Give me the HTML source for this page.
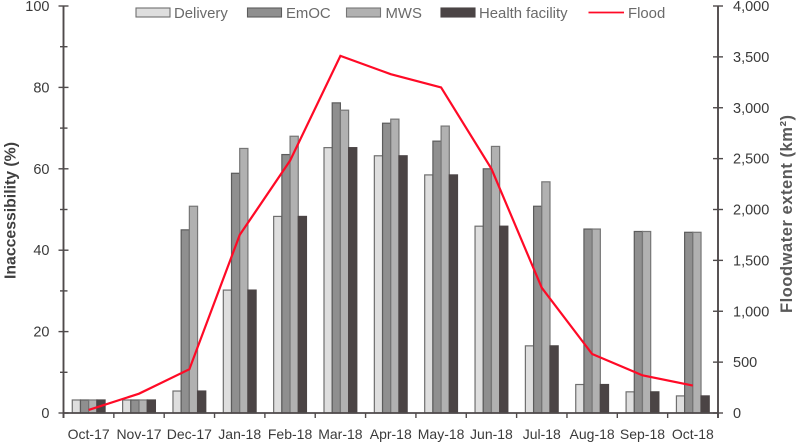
<!DOCTYPE html>
<html>
<head>
<meta charset="utf-8">
<style>
html,body{margin:0;padding:0;background:#fff;}
svg{display:block;font-family:"Liberation Sans",sans-serif;}
</style>
</head>
<body>
<svg id="chart" width="797" height="443" viewBox="0 0 797 443" xmlns="http://www.w3.org/2000/svg"></svg>
<script>
const categories = ["Oct-17","Nov-17","Dec-17","Jan-18","Feb-18","Mar-18","Apr-18","May-18","Jun-18","Jul-18","Aug-18","Sep-18","Oct-18"];
const delivery = [3.2,3.2,5.4,30.2,48.3,65.2,63.2,58.5,45.9,16.5,7,5.2,4.2];
const emoc = [3.2,3.2,45,58.9,63.5,76.2,71.2,66.8,60,50.8,45.2,44.6,44.4];
const mws = [3.2,3.2,50.8,65,68,74.4,72.2,70.5,65.5,56.8,45.2,44.6,44.4];
const healthFacility = [3.2,3.2,5.4,30.2,48.3,65.2,63.2,58.5,45.9,16.5,7,5.2,4.2];
const flood = [30,190,430,1750,2480,3510,3330,3200,2400,1230,580,370,270];
const leftTickLabels = [0,20,40,60,80,100];
const rightTickLabels = [0,500,1000,1500,2000,2500,3000,3500,4000];
const leftMinorTicks = [10,30,50,70,90];

const svg = document.getElementById('chart');
const NS = 'http://www.w3.org/2000/svg';
const plotLeft = 63.5, plotRight = 718, plotTop = 6, plotBottom = 413;
const leftMax = 100, rightMax = 4000;
const barWidth = 8.2;
const seriesStyles = [
  {name:'delivery', values:delivery, fill:'#dedede', stroke:'#6f6f6f'},
  {name:'emoc', values:emoc, fill:'#8f8f8f', stroke:'#5c5c5c'},
  {name:'mws', values:mws, fill:'#b1b1b1', stroke:'#767676'},
  {name:'health-facility', values:healthFacility, fill:'#4b4445', stroke:'#4b4445'}
];
function bandWidth(){ return (plotRight - plotLeft) / categories.length; }
function xCenter(i){ return plotLeft + bandWidth() * (i + 0.5); }
function yLeft(v){ return plotBottom - (v / leftMax) * (plotBottom - plotTop); }
function yRight(v){ return plotBottom - (v / rightMax) * (plotBottom - plotTop); }
function make(tag, attrs, text){
  const el = document.createElementNS(NS, tag);
  for (const k in attrs) el.setAttribute(k, attrs[k]);
  if (text !== undefined) el.textContent = text;
  svg.appendChild(el);
  return el;
}
const axisColor = '#4f4a4b';

// bars
seriesStyles.forEach(function(s, si){
  s.values.forEach(function(v, i){
    const x = xCenter(i) - 2 * barWidth + si * barWidth;
    const y = yLeft(v);
    const r = make('rect', {x:x, y:y, width:barWidth, height:plotBottom - y, fill:s.fill, stroke:s.stroke, 'stroke-width':1.2});
    
    
  });
});

// flood line
const floodPts = flood.map(function(v, i){ return xCenter(i) + ',' + yRight(v); }).join(' ');
const floodLine = make('polyline', {points:floodPts, fill:'none', stroke:'#ff0a26', 'stroke-width':2.2, 'stroke-linejoin':'miter'});



// axes
const leftAxis = make('line', {x1:plotLeft, y1:plotTop, x2:plotLeft, y2:plotBottom + 5, stroke:axisColor, 'stroke-width':1.9});


const rightAxis = make('line', {x1:plotRight, y1:plotTop, x2:plotRight, y2:plotBottom + 5, stroke:axisColor, 'stroke-width':1.9});


const xAxis = make('line', {x1:plotLeft, y1:plotBottom, x2:plotRight, y2:plotBottom, stroke:axisColor, 'stroke-width':1.7});



// left ticks
leftTickLabels.forEach(function(v){
  const y = yLeft(v);
  const t = make('line', {x1:plotLeft - 5, y1:y, x2:plotLeft + 5, y2:y, stroke:axisColor, 'stroke-width':1.4});
  
  
  const l = make('text', {x:plotLeft - 14, y:y + 5, 'text-anchor':'end', 'font-size':14.5, fill:'#3a3a3a'}, v);
  
  
});
leftMinorTicks.forEach(function(v){
  const y = yLeft(v);
  const t = make('line', {x1:plotLeft - 3.5, y1:y, x2:plotLeft + 4, y2:y, stroke:axisColor, 'stroke-width':1.4});
  
  
});

// right ticks
rightTickLabels.forEach(function(v){
  const y = yRight(v);
  const t = make('line', {x1:plotRight - 5, y1:y, x2:plotRight + 5, y2:y, stroke:axisColor, 'stroke-width':1.4});
  
  
  const l = make('text', {x:733, y:y + 5, 'font-size':14.5, fill:'#3a3a3a'}, v.toLocaleString('en-US'));
  
  
});

// x ticks and labels
for (let i = 0; i <= categories.length; i++){
  const x = plotLeft + bandWidth() * i;
  const t = make('line', {x1:x, y1:plotBottom, x2:x, y2:plotBottom + 5, stroke:axisColor, 'stroke-width':1.4});
  
  
}
categories.forEach(function(c, i){
  const l = make('text', {x:xCenter(i), y:439, 'text-anchor':'middle', 'font-size':14, fill:'#3a3a3a'}, c);
  
  
});

// axis titles
const leftTitle = make('text', {transform:'translate(15.5,210.5) rotate(-90)', 'text-anchor':'middle', 'font-size':15.8, 'font-weight':'bold', fill:'#3f3f3f'}, 'Inaccessibility (%)');


const rightTitle = make('text', {transform:'translate(792,214) rotate(-90)', 'text-anchor':'middle', 'font-size':16.5, 'font-weight':'bold', fill:'#595959', textLength:198, lengthAdjust:'spacing'});


rightTitle.textContent = 'Floodwater extent (km\u00B2)';

// legend
const legendItems = [
  {label:'Delivery', sx:136, tx:174, fill:'#dedede', stroke:'#6f6f6f'},
  {label:'EmOC', sx:247.5, tx:286, fill:'#8f8f8f', stroke:'#5c5c5c'},
  {label:'MWS', sx:346.5, tx:385.5, fill:'#b1b1b1', stroke:'#767676'},
  {label:'Health facility', sx:441, tx:479, fill:'#4b4445', stroke:'#4b4445'}
];
legendItems.forEach(function(it){
  const sw = make('rect', {x:it.sx, y:8, width:34, height:9, fill:it.fill, stroke:it.stroke, 'stroke-width':1.1});
  
  
  const tx = make('text', {x:it.tx, y:18, 'font-size':14.9, fill:'#6a6a6a'}, it.label);
  
  
});
const legendLine = make('line', {x1:588.5, y1:12.5, x2:624, y2:12.5, stroke:'#ff0a26', 'stroke-width':1.8});


const legendFlood = make('text', {x:628, y:18, 'font-size':14.9, fill:'#6a6a6a'}, 'Flood');


</script>
</body>
</html>
